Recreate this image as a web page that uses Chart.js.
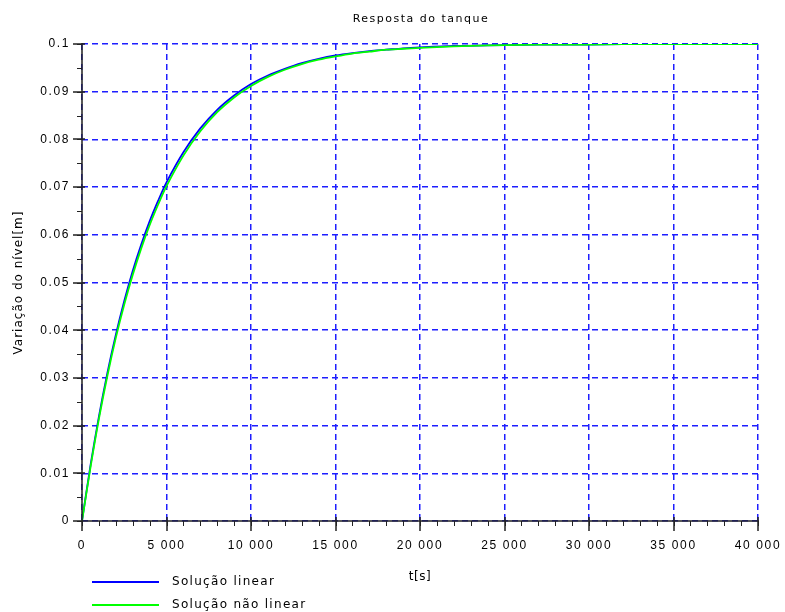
<!DOCTYPE html>
<html>
<head>
<meta charset="utf-8">
<script src="https://cdn.jsdelivr.net/npm/chart.js@4/dist/chart.umd.min.js"></script>
<style>
  html, body { margin: 0; padding: 0; background: #fff; }
  #wrap { width: 785px; height: 612px; }
</style>
</head>
<body>
<div id="wrap"><canvas id="tankChart"></canvas></div>
<script>
const chartTitle = 'Resposta do tanque';
const xTitle = 't[s]';
const yTitle = 'Variação do nível[m]';

const tempos = [0, 500, 1000, 1500, 2000, 2500, 3000, 3500, 4000, 4500, 5000, 6000, 7000, 8000, 9000,
    10000, 11000, 12000, 13000, 14000, 15000, 16000, 17000, 18000, 19000, 20000, 22000, 24000,
    26000, 28000, 30000, 32000, 35000, 40000];

const nivelLinear = [0, 0.0116, 0.0219, 0.0310, 0.0390, 0.0461, 0.0524, 0.0579, 0.0628, 0.0671, 0.0710,
    0.0773, 0.0823, 0.0862, 0.0892, 0.0916, 0.0934, 0.0948, 0.0960, 0.0969, 0.0976, 0.0981, 0.0985,
    0.0988, 0.0991, 0.0993, 0.0996, 0.0997, 0.0998, 0.0999, 0.0999, 0.1, 0.1, 0.1];

const nivelNaoLinear = [0, 0.0112, 0.0214, 0.0304, 0.0384, 0.0454, 0.0516, 0.0571, 0.0620, 0.0663, 0.0702,
    0.0766, 0.0817, 0.0857, 0.0888, 0.0912, 0.0931, 0.0946, 0.0958, 0.0967, 0.0974, 0.0980, 0.0984,
    0.0988, 0.0990, 0.0992, 0.0995, 0.0997, 0.0998, 0.0999, 0.0999, 0.1, 0.1, 0.1];

const xTicksMinor = 1000;
const yTicksMinor = 0.005;

function toPoints(xs, ys) {
    return xs.map((x, i) => ({ x: x, y: ys[i] }));
}

// espaçamento das letras dos ticks (estilo Scilab)
const spacing = {
    id: 'spacing',
    beforeDraw(chart) {
        chart.ctx.letterSpacing = '1.6px';
    }
};

// título, rótulos dos eixos, linhas dos eixos, ticks e legenda
const extras = {
    id: 'extras',
    afterDraw(chart) {
        const c = chart.ctx;
        const area = chart.chartArea;
        const xs = chart.scales.x, ys = chart.scales.y;
        c.save();
        c.fillStyle = '#000';
        c.textAlign = 'center';
        c.textBaseline = 'middle';
        c.font = '11px "DejaVu Sans"';
        c.letterSpacing = '1.5px';
        c.fillText(chartTitle, (area.left + area.right) / 2 + 1, 19);

        c.font = '12px "DejaVu Sans"';
        c.letterSpacing = '0.5px';
        c.fillText(xTitle, (area.left + area.right) / 2, 577);

        c.letterSpacing = '1px';
        c.save();
        c.translate(19, (area.top + area.bottom) / 2);
        c.rotate(-Math.PI / 2);
        c.fillText(yTitle, 0, 0);
        c.restore();

        // eixos e ticks
        c.strokeStyle = '#222';
        c.setLineDash([]);
        c.lineWidth = 1.5;
        c.beginPath();
        c.moveTo(area.left, area.top - 1);
        c.lineTo(area.left, area.bottom);
        c.lineTo(area.right + 1, area.bottom);
        xs.ticks.forEach(t => {
            const px = Math.round(xs.getPixelForValue(t.value));
            c.moveTo(px, area.bottom - 4);
            c.lineTo(px, area.bottom + 10);
        });
        ys.ticks.forEach(t => {
            const py = Math.round(ys.getPixelForValue(t.value));
            c.moveTo(area.left + 3, py);
            c.lineTo(area.left - 9, py);
        });
        c.stroke();

        c.lineWidth = 1;
        c.beginPath();
        for (let v = xs.min; v <= xs.max; v += xTicksMinor) {
            const px = Math.round(xs.getPixelForValue(v)) + 0.5;
            c.moveTo(px, area.bottom);
            c.lineTo(px, area.bottom + 5);
        }
        for (let k = 0; k <= Math.round((ys.max - ys.min) / yTicksMinor); k++) {
            const py = Math.round(ys.getPixelForValue(ys.min + k * yTicksMinor)) + 0.5;
            c.moveTo(area.left, py);
            c.lineTo(area.left - 5, py);
        }
        c.stroke();

        // legenda
        c.textAlign = 'left';
        c.font = '12px "DejaVu Sans"';
        c.letterSpacing = '1.3px';
        chart.data.datasets.forEach((ds, i) => {
            const y = 582 + i * 23;
            c.strokeStyle = ds.borderColor;
            c.lineWidth = 2;
            c.beginPath();
            c.moveTo(92, y);
            c.lineTo(159, y);
            c.stroke();
            c.fillText(ds.label, 172, y);
        });
        c.restore();
        c.letterSpacing = '0px';
    }
};

const gridStyle = {
    color: 'rgb(30, 30, 255)',
    lineWidth: 1.5,
    drawTicks: false
};

const ctx = document.getElementById('tankChart').getContext('2d');
new Chart(ctx, {
    type: 'line',
    data: {
        datasets: [
            {
                label: 'Solução linear',
                data: toPoints(tempos, nivelLinear),
                borderColor: 'rgb(0, 0, 255)',
                borderWidth: 1.8,
                pointRadius: 0,
                tension: 0.3,
                fill: false,
                order: 1
            },
            {
                label: 'Solução não linear',
                data: toPoints(tempos, nivelNaoLinear),
                borderColor: 'rgb(0, 255, 0)',
                borderWidth: 1.8,
                pointRadius: 0,
                tension: 0.3,
                fill: false,
                order: 0
            }
        ]
    },
    options: {
        responsive: true,
        maintainAspectRatio: false,
        animation: false,
        layout: { padding: { top: 44, right: 27, left: 0, bottom: 0 } },
        scales: {
            x: {
                type: 'linear',
                min: 0,
                max: 40000,
                afterFit: s => { s.height = 91; s.paddingLeft = 0; s.paddingRight = 0; },
                ticks: {
                    stepSize: 5000,
                    color: '#000',
                    padding: 17,
                    maxRotation: 0,
                    font: { family: 'Liberation Sans', size: 12 },
                    callback: v => v.toString().replace(/\B(?=(\d{3})+(?!\d))/g, ' ')
                },
                grid: gridStyle,
                border: { display: false, dash: [6, 4] }
            },
            y: {
                min: 0,
                max: 0.1,
                afterFit: s => { s.width = 82; s.paddingTop = 0; s.paddingBottom = 0; },
                ticks: {
                    stepSize: 0.01,
                    color: '#000',
                    padding: 12,
                    font: { family: 'Liberation Sans', size: 12 },
                    callback: v => Number(v.toFixed(2)).toString()
                },
                grid: gridStyle,
                border: { display: false, dash: [6, 4] }
            }
        },
        plugins: {
            legend: { display: false },
            title: { display: false },
            tooltip: { enabled: false }
        }
    },
    plugins: [spacing, extras]
});
</script>
</body>
</html>
